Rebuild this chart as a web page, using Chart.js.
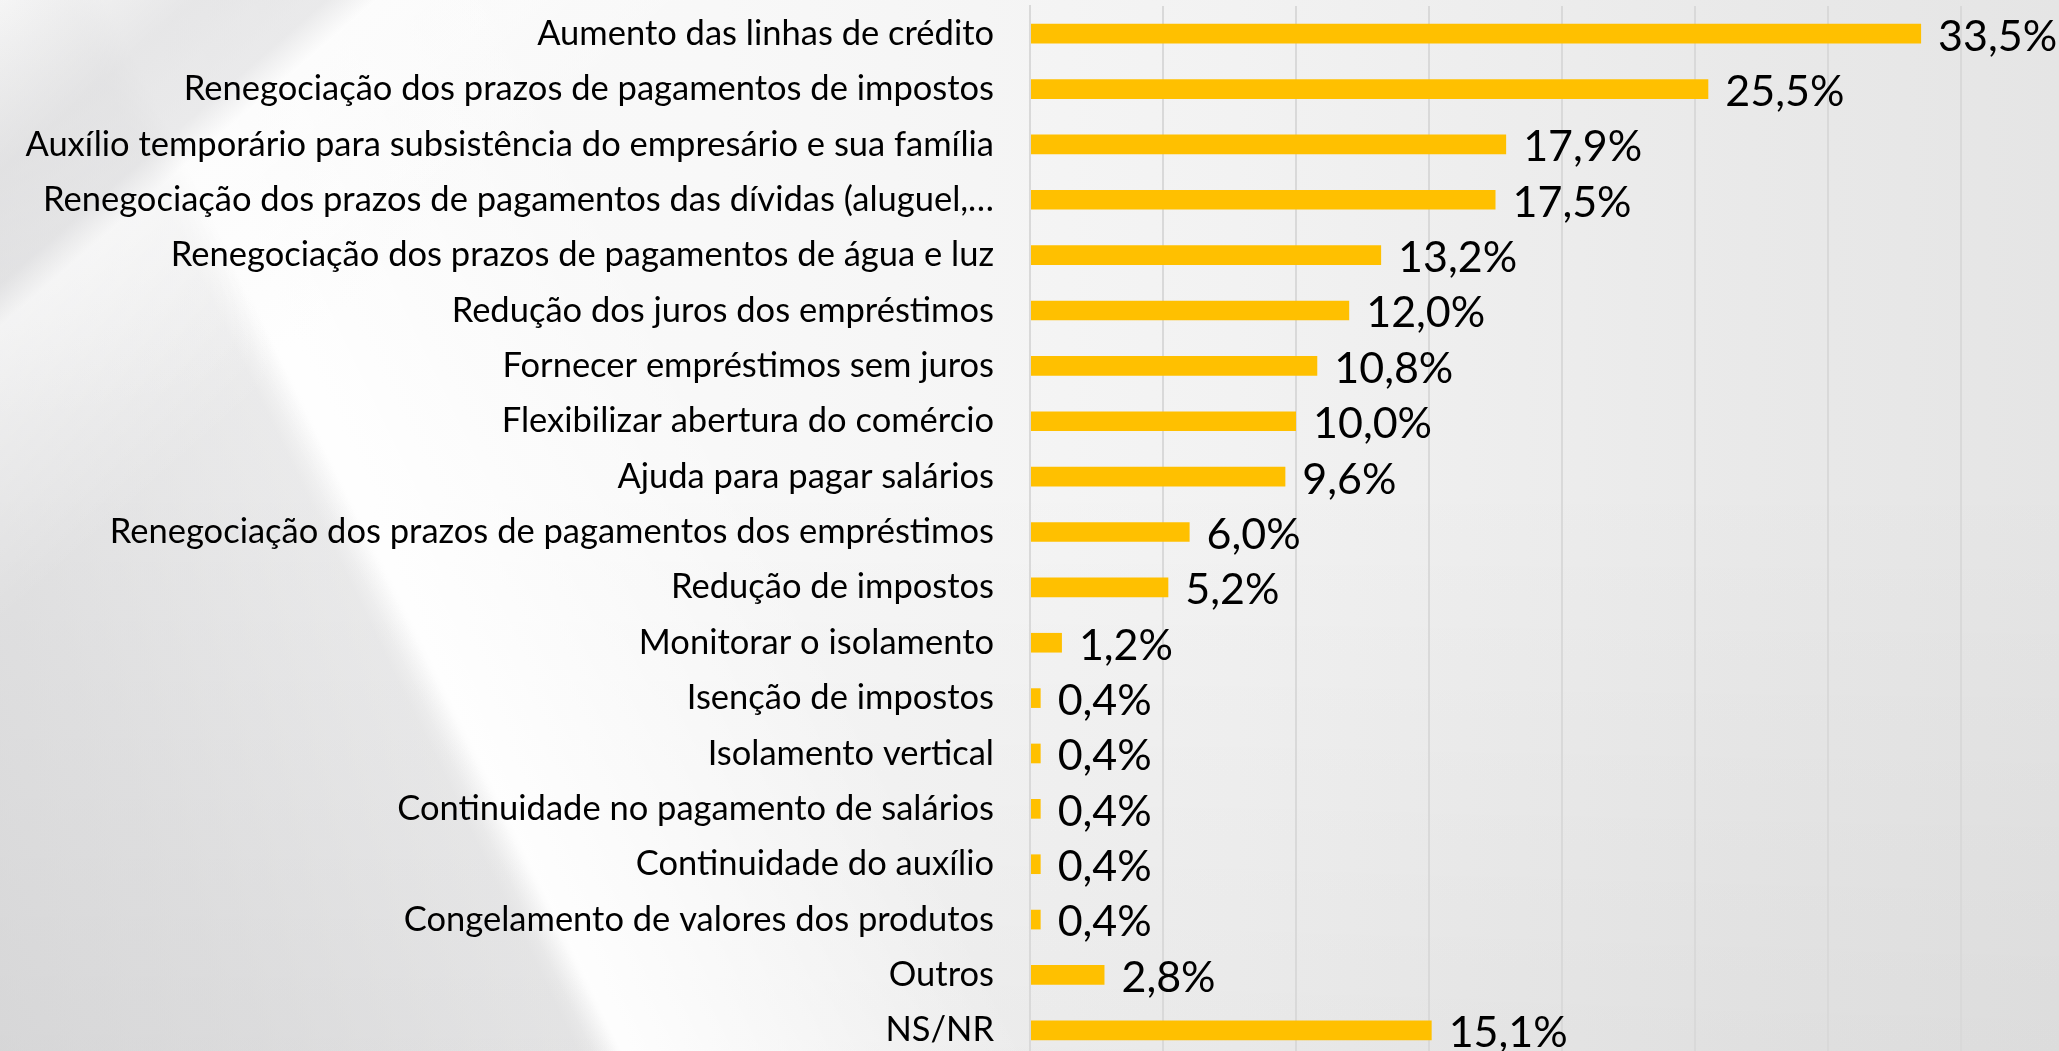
<!DOCTYPE html>
<html>
<head>
<meta charset="utf-8">
<script src="https://cdn.jsdelivr.net/npm/chart.js@4/dist/chart.umd.min.js"></script>
<style>
  html, body { margin: 0; padding: 0; width: 2059px; height: 1051px; overflow: hidden; }
  #wrap {
    position: relative; width: 2059px; height: 1051px; overflow: hidden;
    background:
      linear-gradient(139deg, rgba(215,215,217,0.0) 0%, rgba(212,212,214,0.5) 6%, rgba(218,218,220,0.5) 10%, rgba(255,255,255,0.5) 11.5%, rgba(255,255,255,0) 22%),
      radial-gradient(ellipse 520px 420px at 0 0, rgba(246,246,246,0.95), rgba(246,246,246,0)),
      linear-gradient(244deg, rgba(0,0,0,0) 0%, rgba(0,0,0,0) 76%, rgba(200,200,202,0.3) 77.5%, rgba(195,195,197,0.45) 90%, rgba(190,190,192,0.5) 100%),
      linear-gradient(244deg, rgba(255,255,255,0) 60%, rgba(255,255,255,0.9) 75.8%, rgba(255,255,255,0) 77%),
      linear-gradient(to bottom, rgba(0,0,0,0) 45%, rgba(0,0,0,0.04) 100%),
      linear-gradient(to right, #f9f9f9 0%, #f8f8f8 35%, #f2f2f2 60%, #e9e9e9 85%, #e5e5e5 100%);
  }
  canvas { position: absolute; left: 0; top: 0; }
</style>
</head>
<body>
<div id="wrap"><canvas id="c" width="2094" height="1058"></canvas></div>
<script>
const categories = [
  "Aumento das linhas de crédito",
  "Renegociação dos prazos de pagamentos de impostos",
  "Auxílio temporário para subsistência do empresário e sua família",
  "Renegociação dos prazos de pagamentos das dívidas (aluguel,…",
  "Renegociação dos prazos de pagamentos de água e luz",
  "Redução dos juros dos empréstimos",
  "Fornecer empréstimos sem juros",
  "Flexibilizar abertura do comércio",
  "Ajuda para pagar salários",
  "Renegociação dos prazos de pagamentos dos empréstimos",
  "Redução de impostos",
  "Monitorar o isolamento",
  "Isenção de impostos",
  "Isolamento vertical",
  "Continuidade no pagamento de salários",
  "Continuidade do auxílio",
  "Congelamento de valores dos produtos",
  "Outros",
  "NS/NR"
];
const values = [33.5, 25.5, 17.9, 17.5, 13.2, 12.0, 10.8, 10.0, 9.6, 6.0, 5.2, 1.2, 0.4, 0.4, 0.4, 0.4, 0.4, 2.8, 15.1];
const axisMin = 0;
const axisMax = 40;
const axisStep = 5;

const fmt = v => v.toFixed(1).replace('.', ',') + '%';

const valueLabelPlugin = {
  id: 'valueLabels',
  afterDatasetsDraw(chart) {
    const ctx = chart.ctx;
    const meta = chart.getDatasetMeta(0);
    ctx.save();
    ctx.font = '43px Lato';
    ctx.fillStyle = '#000000';
    ctx.textAlign = 'left';
    ctx.textBaseline = 'middle';
    meta.data.forEach((el, i) => {
      ctx.fillText(fmt(values[i]), el.x + 17, el.y + 3);
    });
    ctx.restore();
  }
};

new Chart(document.getElementById('c'), {
  type: 'bar',
  data: {
    labels: categories,
    datasets: [{
      data: values,
      backgroundColor: '#FFC000',
      borderWidth: 0,
      categoryPercentage: 1.0,
      barPercentage: 0.355
    }]
  },
  options: {
    indexAxis: 'y',
    responsive: false,
    animation: false,
    events: [],
    layout: { padding: { top: 6, bottom: 0, left: 0, right: 0 } },
    plugins: { legend: { display: false }, tooltip: { enabled: false } },
    scales: {
      x: {
        min: axisMin, max: axisMax,
        ticks: { display: false, stepSize: axisStep },
        grid: { color: '#d9d9d9', lineWidth: 2, drawTicks: false },
        border: { display: false },
        afterFit(scale) { scale.height = 0; }
      },
      y: {
        ticks: {
          autoSkip: false,
          padding: 0,
          color: '#000000',
          font: { family: 'Lato', size: 34.5 }
        },
        grid: { display: true, drawOnChartArea: false, drawTicks: true, tickLength: 36, tickColor: 'rgba(0,0,0,0)' },
        border: { display: true, color: '#d9d9d9', width: 2 },
        afterFit(scale) { scale.width = 1030; scale.paddingTop = 0; scale.paddingBottom = 0; }
      }
    }
  },
  plugins: [valueLabelPlugin]
});
</script>
</body>
</html>
